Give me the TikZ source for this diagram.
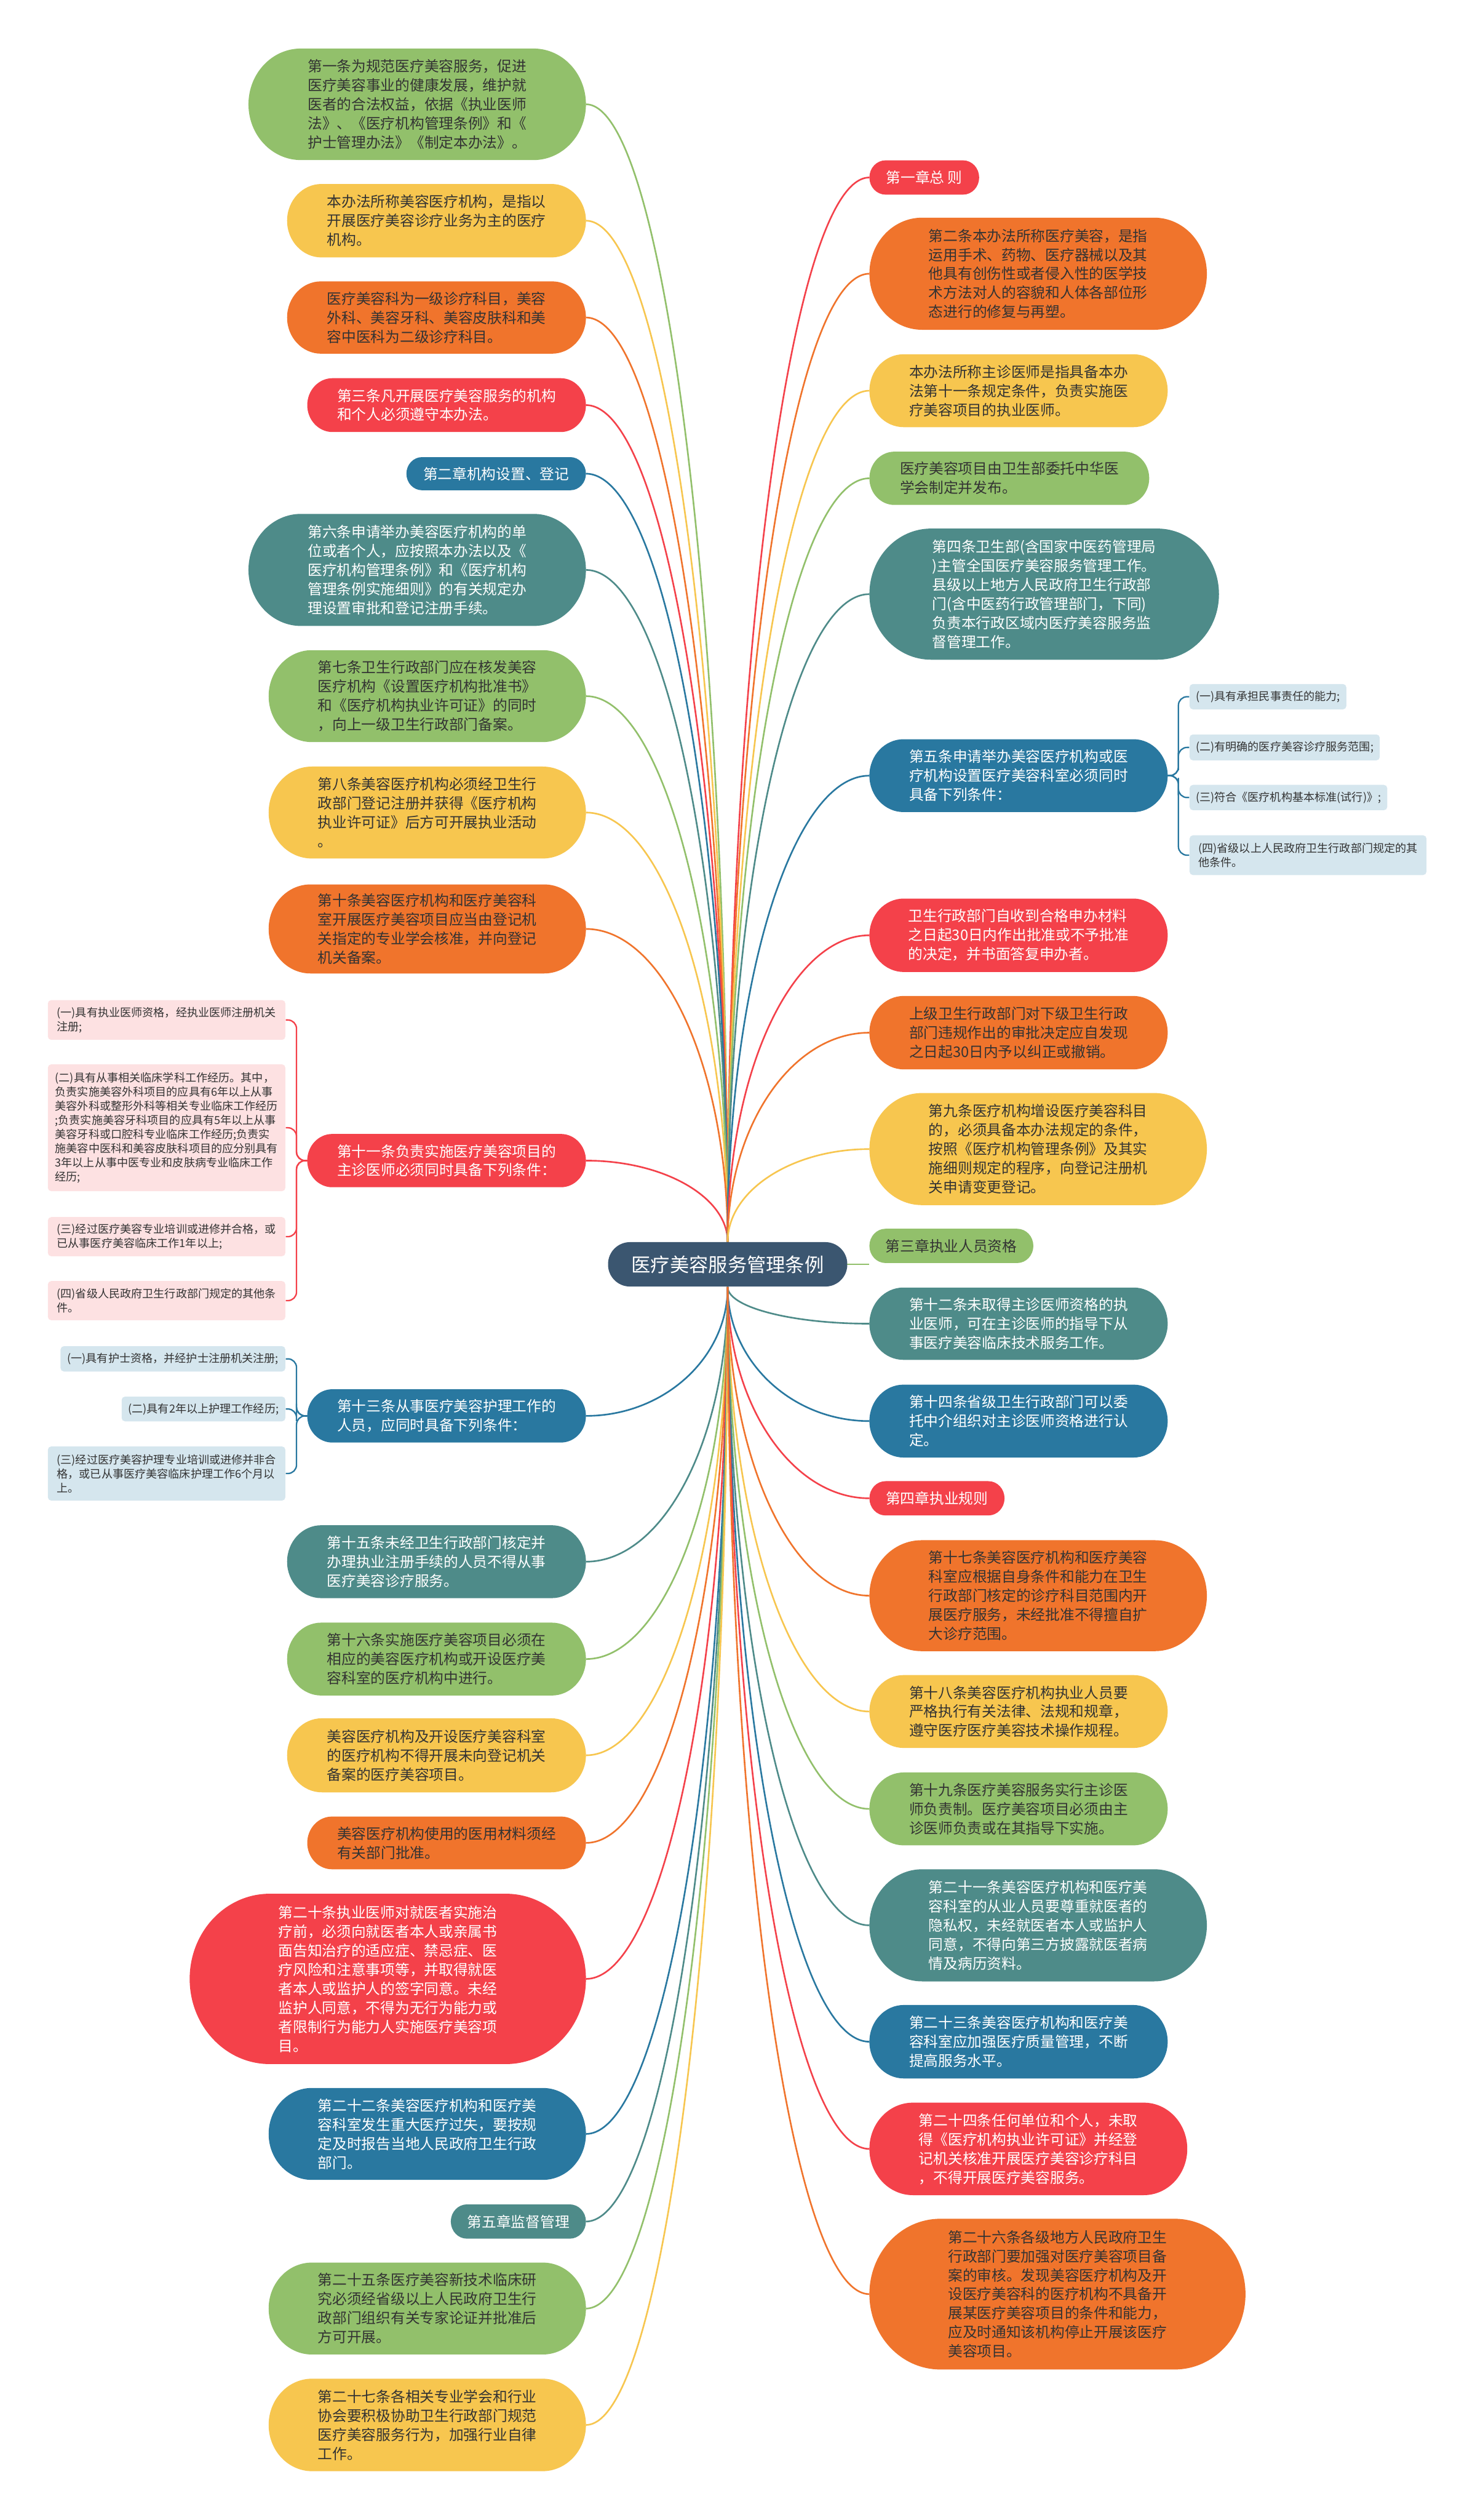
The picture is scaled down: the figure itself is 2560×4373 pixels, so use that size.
\documentclass[tikz,border=0pt]{standalone}
\usepackage{fontspec}
\newfontfamily\cjk{Noto Sans CJK SC}
\usepackage{xcolor}
\usetikzlibrary{calc,backgrounds}
\definecolor{mmgreen}{HTML}{92C06B}
\definecolor{mmyellow}{HTML}{F7C64F}
\definecolor{mmorange}{HTML}{F0742C}
\definecolor{mmred}{HTML}{F4414A}
\definecolor{mmteal}{HTML}{4E8B89}
\definecolor{mmblue}{HTML}{2978A0}
\definecolor{mmroot}{HTML}{3B5670}
\definecolor{mmpink}{HTML}{FDE1E2}
\definecolor{mmsky}{HTML}{D5E6EE}
\definecolor{mmink}{HTML}{333333}

\tikzset{
  mainnode/.style={align=left, inner sep=0pt, font=\cjk\fontsize{7.2pt}{9.4pt}\selectfont},
  lnode/.style={mainnode, anchor=east},
  rnode/.style={mainnode, anchor=west},
  inkdark/.style={text=mmink},
  inklight/.style={text=white},
  leafnode/.style={align=left, inner sep=0pt, rounded corners=0.06cm, text=mmink,
    font=\cjk\fontsize{5.5pt}{7pt}\selectfont},
  pinkleaf/.style={leafnode, fill=mmpink, anchor=east},
  skyleaf/.style={leafnode, fill=mmsky},
  rootbox/.style={fill=mmroot, text=white, rounded corners=0.38cm, inner sep=0pt,
    minimum width=4.15cm, minimum height=0.77cm, font=\cjk\fontsize{9.5pt}{11pt}\selectfont},
  link/.style={line width=0.8pt},
  leaflink/.style={line width=0.7pt, rounded corners=0.15cm},
}

% pill shaped backdrop behind a named node
\newcommand\pillbg[2]{%
  \fill[#2] let \p1=(#1.north west), \p2=(#1.south east),
    \n1={0.5*(\y1-\y2)}, \n2={0.47*(\y1-\y2)} in
    (\x1+\n2,\y1) -- (\x2-\n2,\y1)
    arc[start angle=90, end angle=-90, x radius=\n2, y radius=\n1]
    -- (\x1+\n2,\y2)
    arc[start angle=270, end angle=90, x radius=\n2, y radius=\n1] -- cycle;}

\begin{document}
\begin{tikzpicture}[x=0.01cm,y=-0.01cm]
  \useasboundingbox (0,0) rectangle (2560,4373);

  \node[rootbox] (root) at (1263,2194) {医疗美容服务管理条例};

  \node[lnode,inkdark,minimum width=5.84cm,minimum height=1.92cm] (l1) at (1017,181)
    {第一条为规范医疗美容服务，促进\\医疗美容事业的健康发展，维护就\\医者的合法权益，依据《执业医师\\法》、《医疗机构管理条例》和《\\护士管理办法》《制定本办法》。};
  \node[lnode,inkdark,minimum width=5.17cm,minimum height=1.26cm] (l2) at (1017,383)
    {本办法所称美容医疗机构，是指以\\开展医疗美容诊疗业务为主的医疗\\机构。};
  \node[lnode,inkdark,minimum width=5.17cm,minimum height=1.24cm] (l3) at (1017,551)
    {医疗美容科为一级诊疗科目，美容\\外科、美容牙科、美容皮肤科和美\\容中医科为二级诊疗科目。};
  \node[lnode,inklight,minimum width=4.82cm,minimum height=0.92cm] (l4) at (1017,703)
    {第三条凡开展医疗美容服务的机构\\和个人必须遵守本办法。};
  \node[lnode,inklight,minimum width=3.10cm,minimum height=0.56cm] (l5) at (1017,822)
    {第二章机构设置、登记};
  \node[lnode,inklight,minimum width=5.84cm,minimum height=1.93cm] (l6) at (1017,989)
    {第六条申请举办美容医疗机构的单\\位或者个人，应按照本办法以及《\\医疗机构管理条例》和《医疗机构\\管理条例实施细则》的有关规定办\\理设置审批和登记注册手续。};
  \node[lnode,inkdark,minimum width=5.49cm,minimum height=1.58cm] (l7) at (1017,1208)
    {第七条卫生行政部门应在核发美容\\医疗机构《设置医疗机构批准书》\\和《医疗机构执业许可证》的同时\\，向上一级卫生行政部门备案。};
  \node[lnode,inkdark,minimum width=5.49cm,minimum height=1.58cm] (l8) at (1017,1410)
    {第八条美容医疗机构必须经卫生行\\政部门登记注册并获得《医疗机构\\执业许可证》后方可开展执业活动\\。};
  \node[lnode,inkdark,minimum width=5.49cm,minimum height=1.53cm] (l9) at (1017,1612)
    {第十条美容医疗机构和医疗美容科\\室开展医疗美容项目应当由登记机\\关指定的专业学会核准，并向登记\\机关备案。};
  \node[lnode,inklight,minimum width=4.82cm,minimum height=0.91cm] (l10) at (1017,2014)
    {第十一条负责实施医疗美容项目的\\主诊医师必须同时具备下列条件：};
  \node[lnode,inklight,minimum width=4.82cm,minimum height=0.91cm] (l11) at (1017,2457)
    {第十三条从事医疗美容护理工作的\\人员，应同时具备下列条件：};
  \node[lnode,inklight,minimum width=5.17cm,minimum height=1.25cm] (l12) at (1017,2710)
    {第十五条未经卫生行政部门核定并\\办理执业注册手续的人员不得从事\\医疗美容诊疗服务。};
  \node[lnode,inkdark,minimum width=5.17cm,minimum height=1.25cm] (l13) at (1017,2879)
    {第十六条实施医疗美容项目必须在\\相应的美容医疗机构或开设医疗美\\容科室的医疗机构中进行。};
  \node[lnode,inkdark,minimum width=5.17cm,minimum height=1.27cm] (l14) at (1017,3046)
    {美容医疗机构及开设医疗美容科室\\的医疗机构不得开展未向登记机关\\备案的医疗美容项目。};
  \node[lnode,inkdark,minimum width=4.82cm,minimum height=0.90cm] (l15) at (1017,3198)
    {美容医疗机构使用的医用材料须经\\有关部门批准。};
  \node[lnode,inklight,minimum width=6.86cm,minimum height=2.94cm] (l16) at (1017,3434)
    {第二十条执业医师对就医者实施治\\疗前，必须向就医者本人或亲属书\\面告知治疗的适应症、禁忌症、医\\疗风险和注意事项等，并取得就医\\者本人或监护人的签字同意。未经\\监护人同意，不得为无行为能力或\\者限制行为能力人实施医疗美容项\\目。};
  \node[lnode,inklight,minimum width=5.49cm,minimum height=1.58cm] (l17) at (1017,3703)
    {第二十二条美容医疗机构和医疗美\\容科室发生重大医疗过失，要按规\\定及时报告当地人民政府卫生行政\\部门。};
  \node[lnode,inklight,minimum width=2.33cm,minimum height=0.58cm] (l18) at (1017,3855)
    {第五章监督管理};
  \node[lnode,inkdark,minimum width=5.49cm,minimum height=1.58cm] (l19) at (1017,4006)
    {第二十五条医疗美容新技术临床研\\究必须经省级以上人民政府卫生行\\政部门组织有关专家论证并批准后\\方可开展。};
  \node[lnode,inkdark,minimum width=5.49cm,minimum height=1.59cm] (l20) at (1017,4208)
    {第二十七条各相关专业学会和行业\\协会要积极协助卫生行政部门规范\\医疗美容服务行为，加强行业自律\\工作。};

  \node[rnode,inklight,minimum width=1.89cm,minimum height=0.58cm] (r1) at (1509,308)
    {第一章总 则};
  \node[rnode,inkdark,minimum width=5.84cm,minimum height=1.93cm] (r2) at (1509,475)
    {第二条本办法所称医疗美容，是指\\运用手术、药物、医疗器械以及其\\他具有创伤性或者侵入性的医学技\\术方法对人的容貌和人体各部位形\\态进行的修复与再塑。};
  \node[rnode,inkdark,minimum width=5.16cm,minimum height=1.25cm] (r3) at (1509,678)
    {本办法所称主诊医师是指具备本办\\法第十一条规定条件，负责实施医\\疗美容项目的执业医师。};
  \node[rnode,inkdark,minimum width=4.84cm,minimum height=0.91cm] (r4) at (1509,830)
    {医疗美容项目由卫生部委托中华医\\学会制定并发布。};
  \node[rnode,inklight,minimum width=6.05cm,minimum height=2.26cm] (r5) at (1509,1031)
    {第四条卫生部(含国家中医药管理局\\)主管全国医疗美容服务管理工作。\\县级以上地方人民政府卫生行政部\\门(含中医药行政管理部门，下同)\\负责本行政区域内医疗美容服务监\\督管理工作。};
  \node[rnode,inklight,minimum width=5.16cm,minimum height=1.25cm] (r6) at (1509,1346)
    {第五条申请举办美容医疗机构或医\\疗机构设置医疗美容科室必须同时\\具备下列条件：};
  \node[rnode,inklight,minimum width=5.16cm,minimum height=1.26cm] (r7) at (1509,1623)
    {卫生行政部门自收到合格申办材料\\之日起30日内作出批准或不予批准\\的决定，并书面答复申办者。};
  \node[rnode,inkdark,minimum width=5.16cm,minimum height=1.26cm] (r8) at (1509,1792)
    {上级卫生行政部门对下级卫生行政\\部门违规作出的审批决定应自发现\\之日起30日内予以纠正或撤销。};
  \node[rnode,inkdark,minimum width=5.84cm,minimum height=1.93cm] (r9) at (1509,1994)
    {第九条医疗机构增设医疗美容科目\\的，必须具备本办法规定的条件，\\按照《医疗机构管理条例》及其实\\施细则规定的程序，向登记注册机\\关申请变更登记。};
  \node[rnode,inkdark,minimum width=2.83cm,minimum height=0.58cm] (r10) at (1509,2162)
    {第三章执业人员资格};
  \node[rnode,inklight,minimum width=5.16cm,minimum height=1.24cm] (r11) at (1509,2297)
    {第十二条未取得主诊医师资格的执\\业医师，可在主诊医师的指导下从\\事医疗美容临床技术服务工作。};
  \node[rnode,inklight,minimum width=5.16cm,minimum height=1.25cm] (r12) at (1509,2466)
    {第十四条省级卫生行政部门可以委\\托中介组织对主诊医师资格进行认\\定。};
  \node[rnode,inklight,minimum width=2.33cm,minimum height=0.58cm] (r13) at (1509,2600)
    {第四章执业规则};
  \node[rnode,inkdark,minimum width=5.84cm,minimum height=1.91cm] (r14) at (1509,2769)
    {第十七条美容医疗机构和医疗美容\\科室应根据自身条件和能力在卫生\\行政部门核定的诊疗科目范围内开\\展医疗服务，未经批准不得擅自扩\\大诊疗范围。};
  \node[rnode,inkdark,minimum width=5.16cm,minimum height=1.25cm] (r15) at (1509,2970)
    {第十八条美容医疗机构执业人员要\\严格执行有关法律、法规和规章，\\遵守医疗医疗美容技术操作规程。};
  \node[rnode,inkdark,minimum width=5.16cm,minimum height=1.25cm] (r16) at (1509,3139)
    {第十九条医疗美容服务实行主诊医\\师负责制。医疗美容项目必须由主\\诊医师负责或在其指导下实施。};
  \node[rnode,inklight,minimum width=5.84cm,minimum height=1.93cm] (r17) at (1509,3341)
    {第二十一条美容医疗机构和医疗美\\容科室的从业人员要尊重就医者的\\隐私权，未经就医者本人或监护人\\同意，不得向第三方披露就医者病\\情及病历资料。};
  \node[rnode,inklight,minimum width=5.16cm,minimum height=1.26cm] (r18) at (1509,3543)
    {第二十三条美容医疗机构和医疗美\\容科室应加强医疗质量管理，不断\\提高服务水平。};
  \node[rnode,inklight,minimum width=5.50cm,minimum height=1.59cm] (r19) at (1509,3729)
    {第二十四条任何单位和个人，未取\\得《医疗机构执业许可证》并经登\\记机关核准开展医疗美容诊疗科目\\，不得开展医疗美容服务。};
  \node[rnode,inkdark,minimum width=6.51cm,minimum height=2.60cm] (r20) at (1509,3981)
    {第二十六条各级地方人民政府卫生\\行政部门要加强对医疗美容项目备\\案的审核。发现美容医疗机构及开\\设医疗美容科的医疗机构不具备开\\展某医疗美容项目的条件和能力，\\应及时通知该机构停止开展该医疗\\美容项目。};

  \node[skyleaf,anchor=west,minimum width=2.72cm,minimum height=0.44cm] (rl1) at (2064,1209)
    {(一)具有承担民事责任的能力;};
  \node[skyleaf,anchor=west,minimum width=3.30cm,minimum height=0.45cm] (rl2) at (2064,1297)
    {(二)有明确的医疗美容诊疗服务范围;};
  \node[skyleaf,anchor=west,minimum width=3.43cm,minimum height=0.44cm] (rl3) at (2064,1384)
    {(三)符合《医疗机构基本标准(试行)》;};
  \node[skyleaf,anchor=west,minimum width=4.11cm,minimum height=0.69cm] (rl4) at (2064,1484)
    {(四)省级以上人民政府卫生行政部门规定的其\\他条件。};

  \node[pinkleaf,minimum width=4.12cm,minimum height=0.69cm] (ll1) at (496,1770)
    {(一)具有执业医师资格，经执业医师注册机关\\注册;};
  \node[pinkleaf,minimum width=4.12cm,minimum height=2.20cm] (ll2) at (496,1957)
    {(二)具有从事相关临床学科工作经历。其中，\\负责实施美容外科项目的应具有6年以上从事\\美容外科或整形外科等相关专业临床工作经历\\;负责实施美容牙科项目的应具有5年以上从事\\美容牙科或口腔科专业临床工作经历;负责实\\施美容中医科和美容皮肤科项目的应分别具有\\3年以上从事中医专业和皮肤病专业临床工作\\经历;};
  \node[pinkleaf,minimum width=4.12cm,minimum height=0.68cm] (ll3) at (496,2146)
    {(三)经过医疗美容专业培训或进修并合格，或\\已从事医疗美容临床工作1年以上;};
  \node[pinkleaf,minimum width=4.12cm,minimum height=0.68cm] (ll4) at (496,2257)
    {(四)省级人民政府卫生行政部门规定的其他条\\件。};

  \node[skyleaf,anchor=east,minimum width=3.90cm,minimum height=0.44cm] (nl1) at (496,2358)
    {(一)具有护士资格，并经护士注册机关注册;};
  \node[skyleaf,anchor=east,minimum width=2.84cm,minimum height=0.43cm] (nl2) at (496,2445)
    {(二)具有2年以上护理工作经历;};
  \node[skyleaf,anchor=east,minimum width=4.12cm,minimum height=0.94cm] (nl3) at (496,2557)
    {(三)经过医疗美容护理专业培训或进修并非合\\格，或已从事医疗美容临床护理工作6个月以\\上。};

  \begin{scope}[on background layer]
    \fill[white] (0,0) rectangle (2560,4373);
    % branches above the root
    \foreach \nd/\cl/\sd in {l1/mmgreen/north,l2/mmyellow/north,l3/mmorange/north,
        l4/mmred/north,l5/mmblue/north,l6/mmteal/north,l7/mmgreen/north,
        l8/mmyellow/north,l9/mmorange/north,l10/mmred/north,l11/mmblue/south,
        l12/mmteal/south,l13/mmgreen/south,l14/mmyellow/south,l15/mmorange/south,
        l16/mmred/south,l17/mmblue/south,l18/mmteal/south,l19/mmgreen/south,
        l20/mmyellow/south} {
      \draw[link,\cl] (root.\sd)
        .. controls ($(root.\sd)!0.55!(root.\sd |- \nd.east)$)
        and ($(\nd.east)!0.55!(root.\sd |- \nd.east)$) .. (\nd.east);
      \pillbg{\nd}{\cl}
    }
    \foreach \nd/\cl/\sd in {r1/mmred/north,r2/mmorange/north,r3/mmyellow/north,
        r4/mmgreen/north,r5/mmteal/north,r6/mmblue/north,r7/mmred/north,
        r8/mmorange/north,r9/mmyellow/north,r11/mmteal/south,r12/mmblue/south,
        r13/mmred/south,r14/mmorange/south,r15/mmyellow/south,r16/mmgreen/south,
        r17/mmteal/south,r18/mmblue/south,r19/mmred/south,r20/mmorange/south} {
      \draw[link,\cl] (root.\sd)
        .. controls ($(root.\sd)!0.55!(root.\sd |- \nd.west)$)
        and ($(\nd.west)!0.55!(root.\sd |- \nd.west)$) .. (\nd.west);
      \pillbg{\nd}{\cl}
    }
    \draw[link,mmgreen] (root.center) -- (root.center -| r10.west);
    \pillbg{r10}{mmgreen}
    \foreach \lf in {rl1,rl2,rl3,rl4}
      \draw[leaflink,mmblue] (r6.east) -| ($(r6.east)!.5!(\lf.west)$) |- (\lf.west);
    \foreach \lf in {ll1,ll2,ll3,ll4}
      \draw[leaflink,mmred] (l10.west) -| ($(l10.west)!.5!(\lf.east)$) |- (\lf.east);
    \foreach \lf in {nl1,nl2,nl3}
      \draw[leaflink,mmblue] (l11.west) -| ($(l11.west)!.5!(\lf.east)$) |- (\lf.east);
  \end{scope}
\end{tikzpicture}
\end{document}
